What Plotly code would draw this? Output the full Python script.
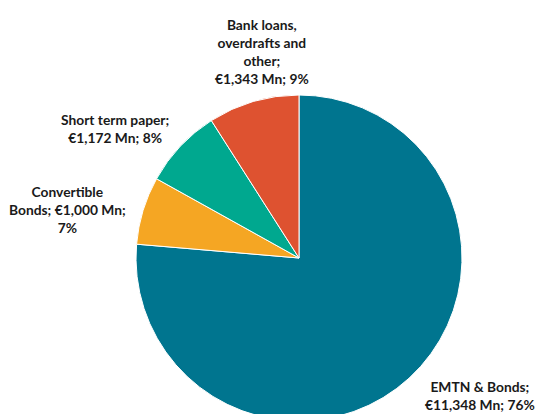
import plotly.graph_objects as go

categories = ["EMTN & Bonds", "Convertible Bonds", "Short term paper", "Bank loans, overdrafts and other"]
values = [11348, 1000, 1172, 1343]
percents = [76, 7, 8, 9]
label_text = [
    "EMTN & Bonds;<br>€11,348 Mn; 76%",
    "Convertible<br>Bonds; €1,000 Mn;<br>7%",
    "Short term paper;<br>€1,172 Mn; 8%",
    "Bank loans,<br>overdrafts and<br>other;<br>€1,343 Mn; 9%",
]
colors = ["#00758F", "#F5A623", "#00A88F", "#DE5230"]

W, H = 538, 440
label_pos = [(480, 395), (67, 209), (115, 128), (262, 51)]

fig = go.Figure(go.Pie(
    labels=categories,
    values=values,
    sort=False,
    direction="clockwise",
    rotation=0,
    marker=dict(colors=colors, line=dict(color="white", width=1)),
    textinfo="none",
    hoverinfo="label+value+percent",
    showlegend=False,
    domain=dict(x=[136 / W, 462 / W], y=[1 - 421 / H, 1 - 95 / H]),
))

for txt, (px, py) in zip(label_text, label_pos):
    fig.add_annotation(
        x=px / W, y=1 - py / H, xref="paper", yref="paper",
        text=f"<b>{txt}</b>", showarrow=False,
        xanchor="center", yanchor="middle", align="center",
        font=dict(family="Lato, Open Sans, sans-serif", size=13.8, color="#1a1a1a"),
    )

fig.update_layout(
    width=W, height=H,
    margin=dict(l=0, r=0, t=0, b=0),
    paper_bgcolor="white", plot_bgcolor="white",
)

fig.write_html(
    "out.html",
    config={"displayModeBar": False},
    post_script="document.body.style.margin='0';document.body.style.overflow='hidden';document.documentElement.style.overflow='hidden';",
)
